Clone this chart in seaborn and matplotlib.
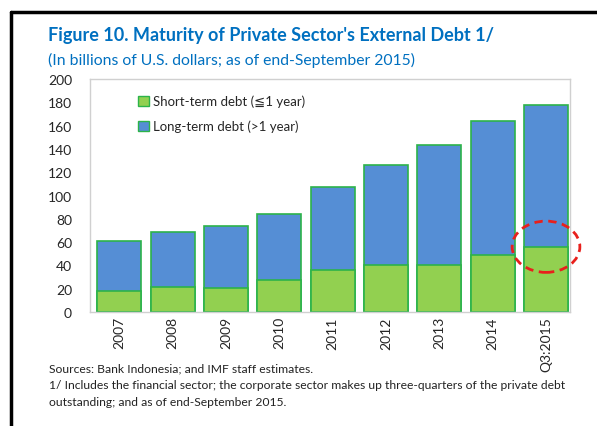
import matplotlib
matplotlib.use("Agg")
import matplotlib.pyplot as plt
import seaborn as sns
import pandas as pd
from matplotlib.patches import Ellipse
from matplotlib.lines import Line2D
from matplotlib.patches import Patch

years = ["2007", "2008", "2009", "2010", "2011", "2012", "2013", "2014", "Q3:2015"]
short_term = [18.3, 21.2, 21.0, 27.5, 36.0, 40.0, 40.6, 49.0, 56.0]
long_term = [42.7, 47.8, 53.0, 56.5, 71.0, 86.5, 102.4, 115.0, 122.0]
y_ticks = [0, 20, 40, 60, 80, 100, 120, 140, 160, 180, 200]
footer_lines = [
    "Sources: Bank Indonesia; and IMF staff estimates.",
    "1/ Includes the financial sector; the corporate sector makes up three-quarters of the private debt",
    "outstanding; and as of end-September 2015.",
]

df = pd.DataFrame({"year": years, "short": short_term, "long": long_term})
df["total"] = df["short"] + df["long"]

sns.set_style("white")
plt.rcParams["font.family"] = ["Lato", "DejaVu Sans"]

BLUE = "#558ed5"
GREEN = "#92d050"
EDGE = "#2cb34a"
TITLE = "#0070c0"

fig = plt.figure(figsize=(5.97, 4.27), dpi=100)
ax = fig.add_axes([90 / 597, 1 - 313 / 427, (570 - 90) / 597, (313 - 80) / 427])

sns.barplot(data=df, x="year", y="total", color=BLUE, edgecolor=EDGE,
            linewidth=1.2, width=0.83, saturation=1, ax=ax)
sns.barplot(data=df, x="year", y="short", color=GREEN, edgecolor=EDGE,
            linewidth=1.2, width=0.83, saturation=1, ax=ax)

ax.set_ylim(0, 200)
ax.set_xlim(-0.55, 8.45)
ax.set_yticks(y_ticks)
ax.set_yticklabels([str(t) for t in y_ticks], fontsize=10)
ax.set_xlabel("")
ax.set_ylabel("")
ax.tick_params(axis="x", labelrotation=90, labelsize=10, length=0, pad=3)
ax.tick_params(axis="y", length=0, pad=13)
for lab in ax.get_yticklabels():
    lab.set_horizontalalignment("right")
for s in ax.spines.values():
    s.set_visible(True)
    s.set_color("#d0d0d0")
    s.set_linewidth(1.0)

handles = [Patch(facecolor=GREEN, edgecolor=EDGE, label="Short-term debt (\u22661 year)"),
           Patch(facecolor=BLUE, edgecolor=EDGE, label="Long-term debt (>1 year)")]
ax.legend(handles=handles, loc="upper left", bbox_to_anchor=(0.09, 0.955), frameon=False,
          fontsize=9.5, handlelength=0.8, handleheight=0.8, handletextpad=0.3,
          labelspacing=0.95, borderaxespad=0)

ell = Ellipse((8, 56), width=1.27, height=44, fill=False, edgecolor="#e8201c",
              linestyle=(0, (3, 2)), linewidth=2, zorder=5, clip_on=False)
ax.add_patch(ell)

fig.text(48 / 597, 1 - 41 / 427, "Figure 10. Maturity of Private Sector's External Debt 1/",
         color=TITLE, fontsize=13, fontweight="bold", va="baseline")
fig.text(48 / 597, 1 - 65 / 427, "(In billions of U.S. dollars; as of end-September 2015)",
         color=TITLE, fontsize=11.3, va="baseline")

for i, line in enumerate(footer_lines):
    fig.text(49 / 597, 1 - (372 + 17 * i) / 427, line, fontsize=8.7,
             va="baseline", color="#222222")

fig.add_artist(Line2D([11 / 597, 11 / 597], [0, 1 - 13 / 427], color="black", linewidth=2.5,
                      transform=fig.transFigure))
fig.add_artist(Line2D([11 / 597, 1], [1 - 13 / 427, 1 - 13 / 427], color="black", linewidth=2.5,
                      transform=fig.transFigure))

fig.savefig("out.png", dpi=100)
